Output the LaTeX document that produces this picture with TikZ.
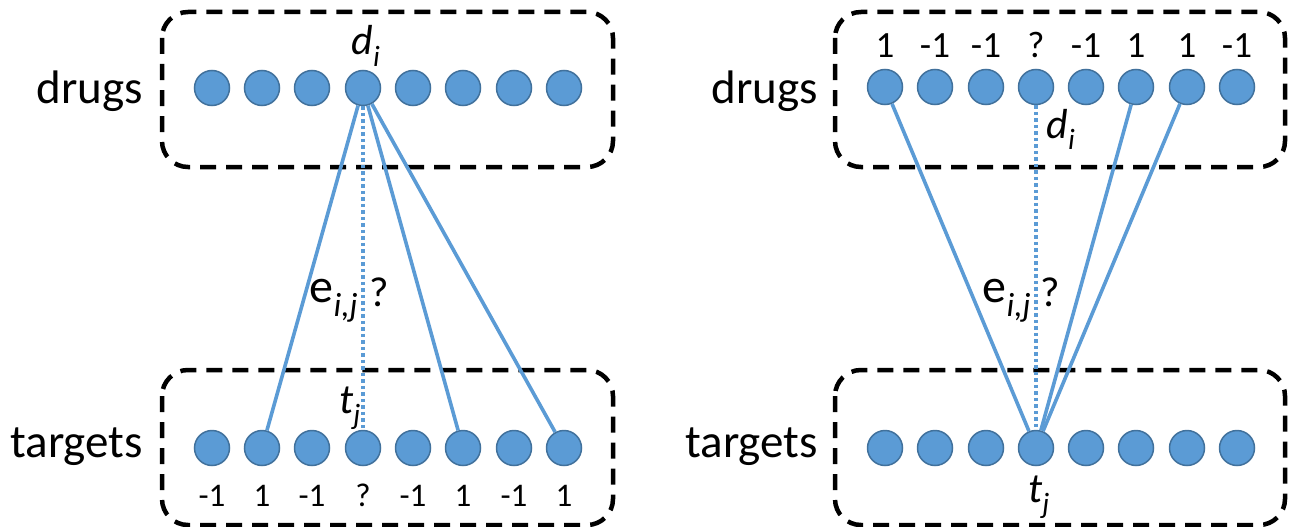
\documentclass[tikz,border=0pt]{standalone}
\usepackage{fontspec}
\setmainfont{Carlito}
\definecolor{nodeblue}{HTML}{5B9BD5}
\definecolor{nodeedge}{HTML}{41719C}
\tikzset{
  vert/.style={circle,fill=nodeblue,draw=nodeedge,line width=1.5pt,minimum size=35pt,inner sep=0pt},
  groupbox/.style={draw=black,line width=4.5pt,dash pattern=on 16pt off 10pt,rounded corners=26pt},
  link/.style={draw=nodeblue,line width=3.6pt},
  unknown/.style={draw=nodeblue,line width=3.6pt,dash pattern=on 3.5pt off 3pt},
  setname/.style={font=\fontsize{47}{50}\selectfont,inner sep=0pt,anchor=base east},
  lblL/.style={font=\fontsize{33}{36}\selectfont,inner sep=0pt,anchor=base},
  lblR/.style={font=\fontsize{37}{40}\selectfont,inner sep=0pt,anchor=base},
  sym/.style={font=\fontsize{42}{46}\selectfont,inner sep=0pt,anchor=base},
  edgesym/.style={font=\fontsize{48}{52}\selectfont,inner sep=0pt,anchor=base}
}
\begin{document}
\begin{tikzpicture}[x=1pt,y=-1pt]
\useasboundingbox (0,0) rectangle (1295,527);

% ---------- left panel: a drug with one unknown target ----------
\draw[groupbox] (162,12) rectangle (613,167);
\draw[groupbox] (162,370) rectangle (613,525);
\node[setname] (drugsL) at (143,103) {drugs};
\node[setname] (targetsL) at (143,457) {targets};
\foreach \k/\x in {1/212,2/262,3/312,4/363,5/413,6/463,7/514,8/564}{
  \node[vert] (dL\k) at (\x,88) {};
  \node[vert] (tL\k) at (\x,448) {};
}
\foreach \k/\v in {1/-1,2/1,3/-1,4/?,5/-1,6/1,7/-1,8/1}{
  \node[lblL] at ([yshift=-58pt]tL\k.center) {\v};
}
\node[sym] (diL) at (366,55) {\textit{d}\textsubscript{\textit{i}}};
\node[sym] (tjL) at (350,413) {\textit{t}\textsubscript{\textit{j}}};
\draw[link] (dL4) -- (tL2);
\draw[link] (dL4) -- (tL6);
\draw[link] (dL4) -- (tL8);
\draw[unknown] (dL4.south) -- (tL4.north);
\node[edgesym] (eL) at (334,302) {e\textsubscript{\textit{i,j}}};
\node[sym] (qL) at (379,306) {?};

% ---------- right panel: a target with one unknown drug ----------
\draw[groupbox] (835,12) rectangle (1285,167);
\draw[groupbox] (835,370) rectangle (1285,525);
\node[setname] (drugsR) at (818,103) {drugs};
\node[setname] (targetsR) at (818,457) {targets};
\foreach \k/\x in {1/885,2/935,3/986,4/1036,5/1086,6/1136,7/1187,8/1237}{
  \node[vert] (dR\k) at (\x,87) {};
  \node[vert] (tR\k) at (\x,448) {};
}
\foreach \k/\v in {1/1,2/-1,3/-1,4/?,5/-1,6/1,7/1,8/-1}{
  \node[lblR] at ([yshift=29pt]dR\k.center) {\v};
}
\node[sym] (diR) at (1061,138) {\textit{d}\textsubscript{\textit{i}}};
\node[sym] (tjR) at (1039,502) {\textit{t}\textsubscript{\textit{j}}};
\draw[link] (dR1) -- (tR4);
\draw[link] (dR6) -- (tR4);
\draw[link] (dR7) -- (tR4);
\draw[unknown] (dR4.south) -- (tR4.north);
\node[edgesym] (eR) at (1007,302) {e\textsubscript{\textit{i,j}}};
\node[sym] (qR) at (1050,306) {?};
\end{tikzpicture}
\end{document}
